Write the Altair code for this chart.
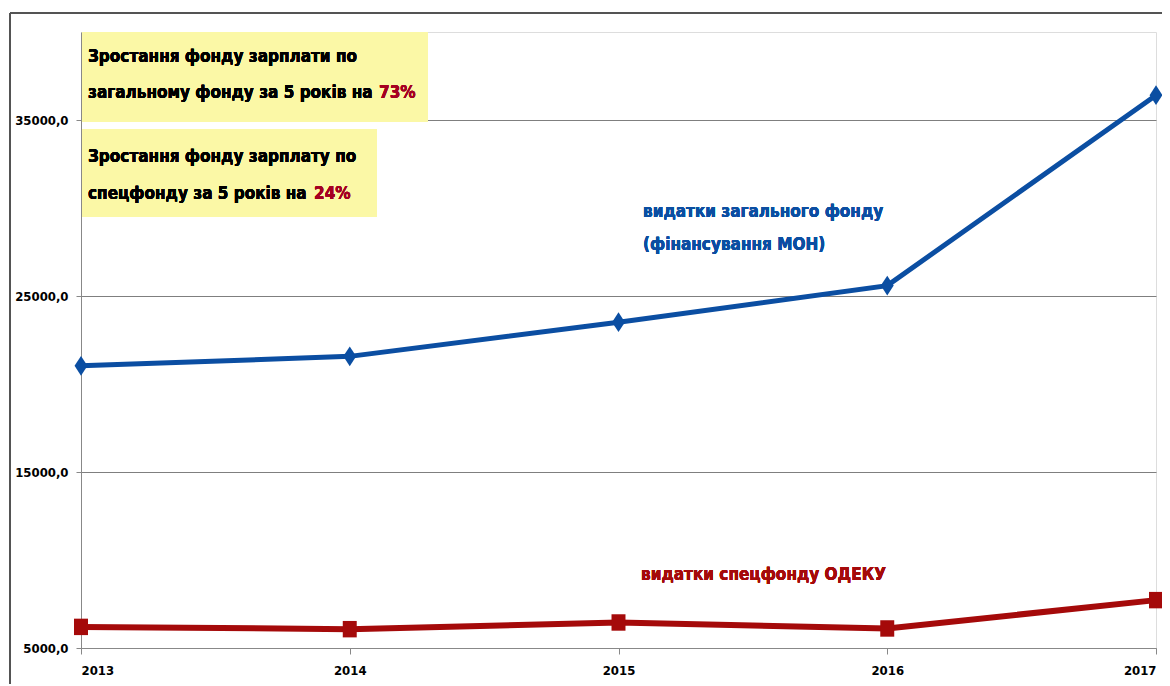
import altair as alt
import pandas as pd

years = [2013, 2014, 2015, 2016, 2017]
general_fund = [21030, 21570, 23510, 25590, 36410]
special_fund = [6200, 6070, 6450, 6110, 7720]
y_ticks = [5000, 15000, 25000, 35000]

FONT = "'DejaVu Sans Condensed', 'Liberation Sans Narrow', 'Open Sans', sans-serif"
W, H = 1075, 616

df = pd.DataFrame({"year": years, "general": general_fund, "special": special_fund})

blue = "#0B4EA2"
red = "#A50A0A"

xs = alt.X("year:Q", scale=alt.Scale(domain=[2013, 2017], nice=False),
           axis=alt.Axis(values=years, format="d", grid=False, title=None,
                         labelFont=FONT, labelFontWeight="bold", labelFontSize=13,
                         labelColor="#000", domainColor="#888", tickColor="#888",
                         tickSize=6, labelPadding=10))
ys = alt.Y("general:Q", scale=alt.Scale(domain=[5000, 40000], nice=False, zero=False),
           axis=alt.Axis(values=y_ticks, title=None, grid=True, gridColor="#7f7f7f",
                         labelExpr="replace(format(datum.value, '.1f'), '.', ',')",
                         labelFont=FONT, labelFontWeight="bold", labelFontSize=13,
                         labelColor="#000", domainColor="#888", tickColor="#888",
                         tickSize=5, labelPadding=8))

base = alt.Chart(df)

gen_line = base.mark_line(color=blue, strokeWidth=5).encode(x=xs, y=ys)
gen_pts = base.mark_point(shape="M0,-1.3L0.85,0L0,1.3L-0.85,0Z", filled=True, opacity=1,
                          color=blue, size=230).encode(x="year:Q", y="general:Q")
spe_line = base.mark_line(color=red, strokeWidth=6).encode(x="year:Q", y="special:Q")
spe_pts = base.mark_point(shape="M-0.85,-1L0.85,-1L0.85,1L-0.85,1Z", filled=True, opacity=1,
                          color=red, size=270).encode(x="year:Q", y="special:Q")

# decorations (chart-area frame)
frame_top = alt.Chart(df).mark_rule(color="#555", strokeWidth=1.5).encode(
    x=alt.value(-71), x2=alt.value(W + 20), y=alt.value(-19))
frame_left = alt.Chart(df).mark_rule(color="#555", strokeWidth=1.5).encode(
    x=alt.value(-71), y=alt.value(-19), y2=alt.value(H + 60))

box_color = "#FBF8A6"
box1 = alt.Chart(df).mark_rect(color=box_color).encode(
    x=alt.value(1), x2=alt.value(347), y=alt.value(0), y2=alt.value(90))
box2 = alt.Chart(df).mark_rect(color=box_color).encode(
    x=alt.value(1), x2=alt.value(296), y=alt.value(97), y2=alt.value(185))


def txt(s, x, y, color="#000", size=17):
    return alt.Chart(df).mark_text(text=s, align="left", baseline="middle", font=FONT,
                                   fontWeight="bold", fontSize=size, color=color).encode(
        x=alt.value(x), y=alt.value(y))


pct_red = "#A50021"
texts = [
    txt("Зростання фонду зарплати по", 7, 25),
    txt("загальному фонду за 5 років на", 7, 61),
    txt("73%", 298, 61, pct_red),
    txt("Зростання фонду зарплату по", 7, 125),
    txt("спецфонду за 5 років на", 7, 162),
    txt("24%", 233, 162, pct_red),
    txt("видатки загального фонду", 562, 180, blue),
    txt("(фінансування МОН)", 562, 213, blue),
    txt("видатки спецфонду ОДЕКУ", 560, 543, red),
]

chart = alt.layer(gen_line, spe_line, gen_pts, spe_pts, frame_top, frame_left,
                  box1, box2, *texts).properties(
    width=W, height=H,
    autosize=alt.AutoSizeParams(type="none"),
    padding={"left": 73, "top": 24, "right": 6, "bottom": 36},
).configure_view(stroke=None).configure(background="white")

chart.save("out.html", embed_options={"renderer": "svg", "actions": False})
